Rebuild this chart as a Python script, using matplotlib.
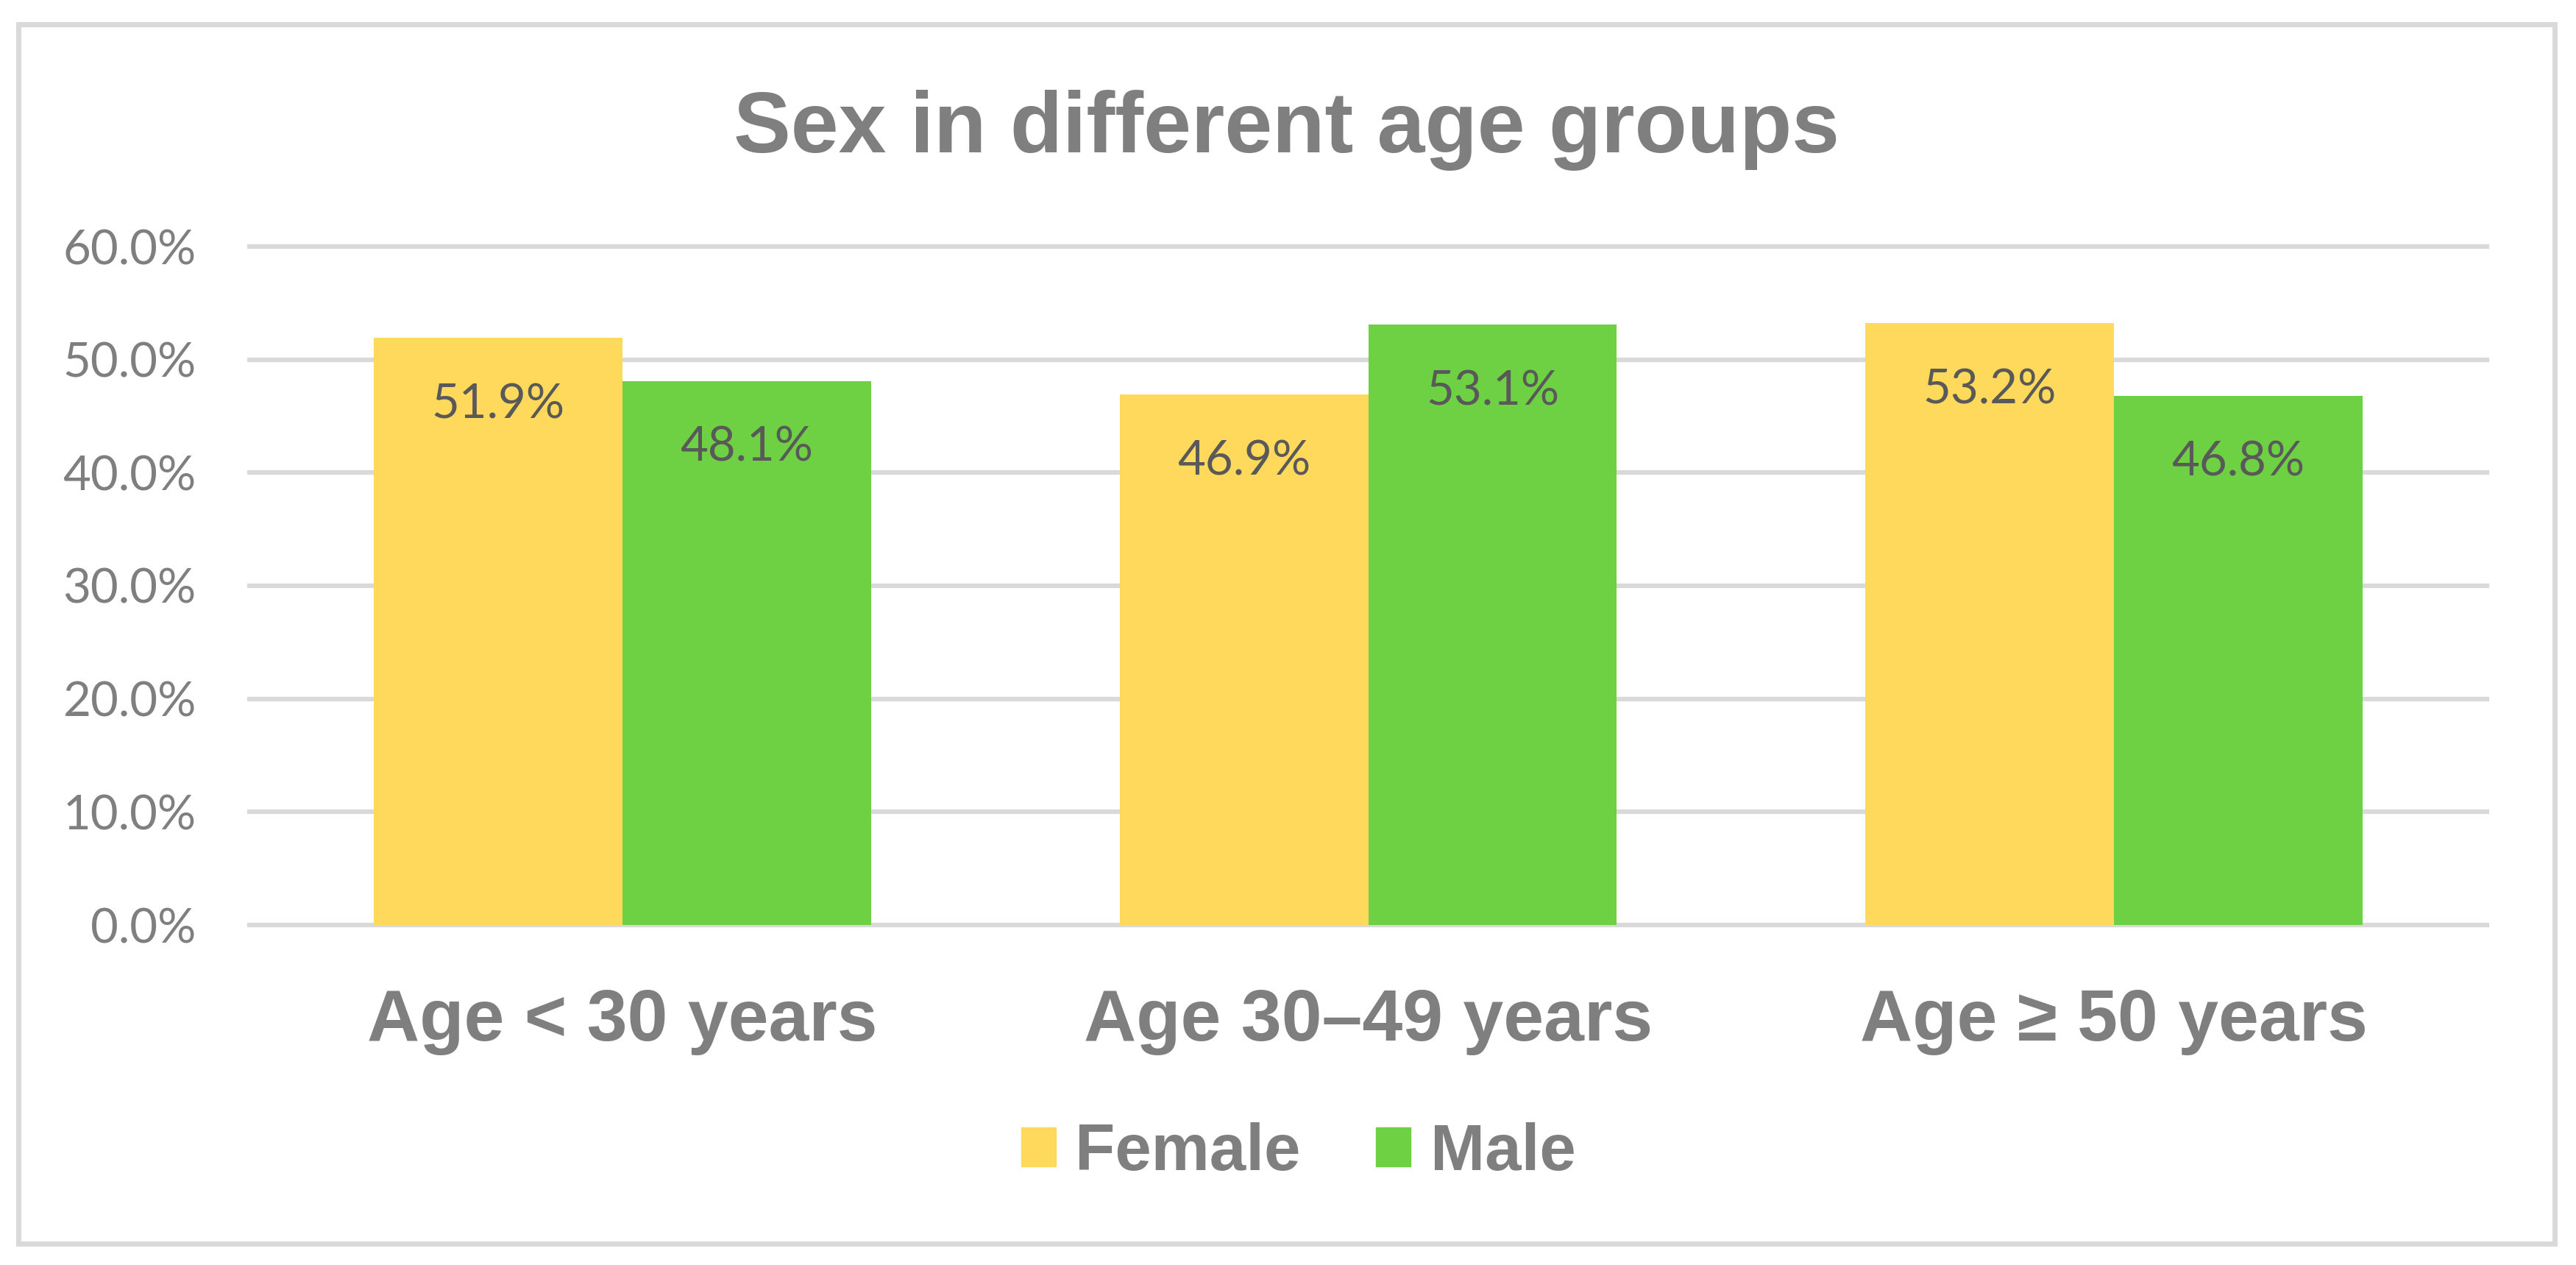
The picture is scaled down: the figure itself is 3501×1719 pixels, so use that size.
import numpy as np
import matplotlib
matplotlib.use("Agg")
import matplotlib.pyplot as plt
from matplotlib.patches import Rectangle, Patch
from matplotlib.ticker import FuncFormatter

# data
categories = ["Age < 30 years", "Age 30\u201349 years", "Age \u2265 50 years"]
female = [51.9, 46.9, 53.2]
male = [48.1, 53.1, 46.8]
series_names = ["Female", "Male"]
y_ticks = [0, 10, 20, 30, 40, 50, 60]

FEMALE_C = "#FFD95B"
MALE_C = "#6ED143"
GRID_C = "#D9D9D9"
TEXT_C = "#7F7F7F"
LABEL_C = "#595959"

W, H = 3501, 1719
fig = plt.figure(figsize=(W / 100, H / 100), dpi=100)
ax = fig.add_axes([339 / W, 1 - 1257 / H, (3380 - 339) / W, (1257 - 335) / H])

x = np.arange(len(categories))
bw = 1 / 3
b1 = ax.bar(x - bw / 2, female, bw, color=FEMALE_C, zorder=3)
b2 = ax.bar(x + bw / 2, male, bw, color=MALE_C, zorder=3)

for bars in (b1, b2):
    for rect in bars:
        v = rect.get_height()
        ax.annotate(f"{v:.1f}%", (rect.get_x() + rect.get_width() / 2, v),
                    xytext=(0, -44), textcoords="offset points",
                    ha="center", va="top", fontsize=47, color=LABEL_C,
                    family="Lato", zorder=4)

ax.set_xlim(-0.5, 2.5)
ax.set_ylim(0, 60)
ax.set_yticks(y_ticks)
ax.yaxis.set_major_formatter(FuncFormatter(lambda v, p: f"{v:.1f}%"))
ax.set_xticks(x)
ax.set_xticklabels(categories)
for t in ax.get_xticklabels():
    t.set_fontfamily("Liberation Sans")
    t.set_fontweight("bold")
    t.set_fontsize(71)
    t.set_color(TEXT_C)
for t in ax.get_yticklabels():
    t.set_fontfamily("Lato")
    t.set_fontsize(47)
    t.set_color(TEXT_C)
ax.tick_params(axis="x", length=0, pad=62)
ax.tick_params(axis="y", length=0, pad=52)

for v in y_ticks:
    ax.axhline(v, color=GRID_C, lw=4.5, zorder=1, clip_on=False)
for s in ax.spines.values():
    s.set_visible(False)

fig.text(0.4993, 1 - 207 / H, "Sex in different age groups", ha="center",
         va="baseline", fontsize=84, fontweight="bold", color=TEXT_C,
         family="Liberation Sans")

handles = [Patch(color=FEMALE_C), Patch(color=MALE_C)]
leg = fig.legend(handles, series_names, loc="center", bbox_to_anchor=(0.504, 1 - 1567 / H),
                 ncol=2, frameon=False, handlelength=0.53, handleheight=0.53,
                 handletextpad=0.3, columnspacing=1.15, borderpad=0,
                 prop={"family": "Liberation Sans", "weight": "bold", "size": 64})
for t in leg.get_texts():
    t.set_color(TEXT_C)

fig.patches.append(Rectangle((25 / W, 1 - 1690 / H), (3472 - 25) / W, (1690 - 33) / H,
                             transform=fig.transFigure, fill=False,
                             edgecolor=GRID_C, lw=5))

fig.savefig("out.png", dpi=100, facecolor="white")
